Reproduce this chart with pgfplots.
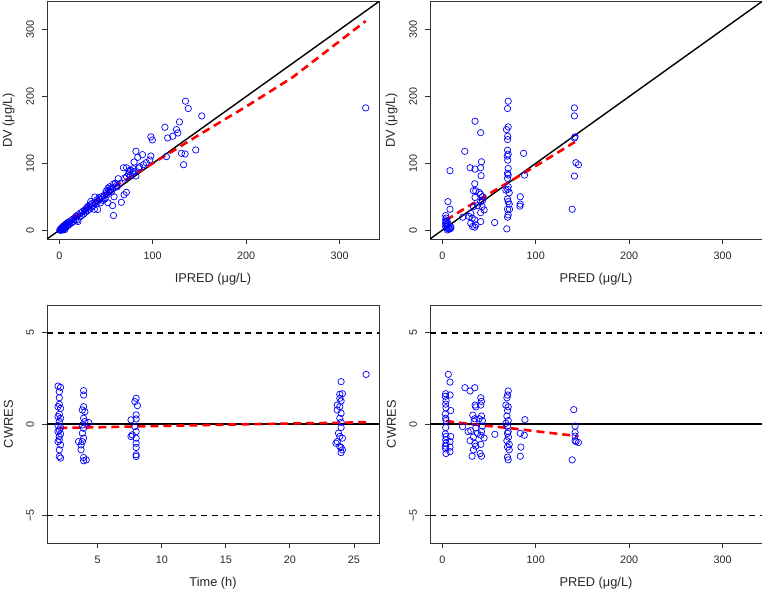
\documentclass[border=0pt]{standalone}
\usepackage{fontspec}
\setmainfont{Liberation Sans}
\usepackage{pgfplots}
\usepackage{pgfplotstable}
\pgfplotsset{compat=1.18}

% Observed vs individual predictions
\pgfplotstableread{
x y
328 183
135 193
138 182
152.5 171
113 154
128.6 162
125.4 150.5
126.8 145.5
121.4 140.6
116 138
98 139.6
99.6 135
98 111
96.8 105
93 101
89 113
82 118
84 109
114.6 110
130.7 115
134.6 114
146 120
133 98
80 102
68.6 93.4
72 93.4
76 82
78.6 86.4
82 81
85 93
79 92
75 88
63 77
58 69
61 66.6
52 62.6
53.6 58
54 65
50 55
69.3 53
71.8 56.6
66.4 41.7
58.6 50
57 36.8
58 21.9
52 41
47 44.7
38 49.7
42.5 48.7
41 31
37.5 31.3
33.6 43
29 32.8
0.5 0
1 1
1.5 0.5
2 2
2 0
2.5 3
3 1
3 4
3.5 2
4 5
4 0.5
4.5 3
5 6
5 2
5.5 4
6 7
6 1
7 9
7 5
8 10
8 6
9 11
9 7
10 12
10 8
11 9
12 14
13 11
14 16
15 13
16 18
17 15
18 21
19 15
20 13
20 23
22 20
23 26
24 22
25 28
26 24
27 30
28 27
30 34
30 29
31 36
32 31
33 38
34 34
35 40
36 37
38 41
39 39
40 45
41 43
43 46
44 41
45 50
46 48
48 52
49 47
50 58
51 53
53 60
55 61
56 57
57 63
60 70
62 65
65 70
70 78
72 80
74 84
76 90
80 88
86 95
90 98
}\ipredtab

% Observed vs population predictions
\pgfplotstableread{
x y
70.5 193
69.8 182
70.5 154.5
68.7 150.5
70 140.6
69.8 135.6
69.8 119.7
70.5 113.8
69.5 110.8
70 104.8
70.5 92.4
69.8 85
70.5 82.5
69.8 77.5
70.5 65
70 61
68 60
71.6 56
69.8 46.7
70.5 42.7
71.6 39
69.8 31.3
71.9 31.3
70.5 22.9
69.8 19.4
69 2
35 163
41 146
24 118
29.7 93.4
35 91.4
41.9 102.3
41 93.4
41.5 81.5
34.7 69.5
33.3 59
35.8 59
39.4 56.6
41 53.7
43 50
35 49
41 42.7
43 44.2
37.6 36.8
42.6 35.3
44.7 30.3
41 26.3
41 12.9
33.3 35.3
30.4 25.3
28.6 20.4
32 17.9
34.7 15.4
30.4 10.4
32.5 5.5
34.7 4.5
35.8 8
21.8 19.4
56 11.4
8.2 89
6 42.7
8.2 31.3
3.6 21.9
3.6 15.4
3.6 10.4
3.6 5.5
7 1.5
9 3
5.4 0.5
4 8
4 12
5 3
5 6
6 10
8 2
9 5
5 14
4 18
83.4 50
83.4 39
83 36
87 115
88 82.5
141.4 183
141.4 171
142 139.6
141.4 138
143 101
145.7 98
141.4 81
139 31.3
}\predtab

% Conditional weighted residuals vs time
\pgfplotstableread{
x y
1.9 2.09
2.1 2.02
2.0 1.78
2.0 1.45
2.0 1.09
1.9 0.96
2.1 0.87
2.0 0.55
1.9 0.42
2.1 0.33
2.0 0.15
1.9 -0.07
2.1 -0.18
2.0 -0.31
1.9 -0.40
2.1 -0.53
2.0 -0.67
2.0 -0.85
1.9 -0.95
2.1 -1.13
2.0 -1.40
2.0 -1.76
2.1 -1.85
3.9 1.84
3.9 1.60
3.9 0.96
3.8 0.78
4.0 0.69
3.9 0.33
4.0 0.15
4.3 0.09
3.8 -0.04
3.9 -0.22
3.8 -0.49
3.9 -0.76
3.8 -0.95
3.5 -0.95
3.7 -1.13
3.7 -1.40
3.9 -1.82
4.1 -1.95
3.9 -2.00
8.0 1.42
7.9 1.24
8.1 1.02
8.0 0.51
7.6 0.24
8.0 0.29
7.9 -0.13
8.0 -0.40
7.7 -0.58
7.6 -0.67
8.0 -0.76
8.0 -1.04
8.0 -1.27
8.0 -1.67
8.0 -1.76
24.0 2.33
23.9 1.64
24.1 1.67
23.9 1.42
24.0 1.27
23.7 1.05
23.9 0.96
23.7 0.78
24.0 0.60
23.9 0.33
24.0 0.11
24.0 -0.18
23.8 -0.49
23.9 -0.67
24.1 -0.76
23.7 -0.95
23.6 -1.04
23.9 -1.22
24.0 -1.27
24.1 -1.40
24.0 -1.55
25.95 2.73
}\timetab

% Conditional weighted residuals vs population predictions
\pgfplotstableread{
x y
3.6 1.67
3.2 1.53
4.0 1.30
3.6 1.10
3.9 0.90
3.2 0.56
3.6 0.33
4.0 0.20
3.6 -0.18
3.2 -0.53
4.0 -0.67
3.6 -0.85
3.9 -1.04
3.2 -1.20
3.6 -1.35
3.9 -1.60
6.4 2.73
8.2 2.31
8.2 1.60
9.0 0.75
9.0 -0.67
8.2 -0.95
8.2 -1.25
8.2 -1.50
24.2 2.00
21.7 -0.13
29.7 1.82
34.7 2.00
35.8 0.95
35.1 1.05
32.6 0.50
34.7 0.30
34.0 0.15
27.6 -0.40
30.4 -0.35
29.7 -0.90
33.3 -0.70
34.7 -1.05
33.3 -1.40
31.9 -1.75
35.8 -0.20
37.6 -0.50
35.8 -1.20
41.2 1.45
41.9 1.25
41.2 1.05
41.9 0.45
39.4 0.30
42.9 0.20
42.9 -0.10
41.9 -0.40
41.2 -0.60
44.7 -0.75
41.2 -1.10
40.5 -1.60
41.9 -1.75
56.2 -0.55
70.5 1.82
69.8 1.60
69.1 1.45
68.0 1.05
70.5 0.95
69.8 0.75
69.1 0.45
70.5 0.20
68.0 0.05
69.8 -0.10
70.5 -0.40
70.8 -0.70
69.1 -0.90
71.6 -1.10
71.6 -1.40
69.8 -1.80
70.5 -1.95
69.8 -0.50
69.8 -1.25
83.4 -0.50
84.1 -1.25
83.4 -1.75
88.4 0.25
87.7 -0.60
140.7 0.80
142.1 -0.10
142.1 -0.45
142.1 -0.65
142.1 -0.90
143.2 -0.95
145.7 -1.00
139.0 -1.95
}\cwrespredtab

\pgfplotsset{
  diag/.style={
    scale only axis, width=332pt, height=237.5pt,
    axis line style={line width=0.8pt, black!80},
    tick align=outside, xtick pos=left, ytick pos=left,
    major tick length=5pt,
    tick style={line width=0.8pt, black!80},
    /pgf/number format/assume math mode=true,
    ticklabel style={font=\fontsize{10.8}{12}\selectfont, text=black!85},
    xticklabel style={anchor=north},
    yticklabel style={rotate=90, anchor=south},
    xticklabel shift=4.5pt,
    yticklabel shift=4.5pt,
    label style={font=\fontsize{12.8}{14}\selectfont, text=black!85},
    xlabel style={at={(axis description cs:0.5,-0.168)}, anchor=center},
    ylabel style={at={(axis description cs:-0.116,0.5)}, anchor=center},
    clip=true,
  },
  conc/.style={
    xmin=-13.2, xmax=342.2, ymin=-13.2, ymax=342.2,
    xtick={0,100,200,300}, xticklabels={0,100,200,300},
    ytick={0,100,200,300}, yticklabels={0,100,200,300},
  },
  resid/.style={
    ymin=-6.5, ymax=6.5,
    ytick={-5,0,5}, yticklabels={−5,0,5},
  },
  pts/.style={only marks, mark=o, mark size=3.2pt, blue, mark options={line width=0.7pt}},
  trend/.style={red, line width=2.6pt, dash pattern=on 8pt off 5pt},
}

\begin{document}
\begin{tikzpicture}
\useasboundingbox (0pt,0pt) rectangle (762pt,591pt);

% DV vs IPRED
\begin{axis}[diag, conc, at={(47pt,352pt)}, anchor=south west,
  xlabel={IPRED (μg/L)}, ylabel={DV (μg/L)}]
\addplot[pts] table {\ipredtab};
\addplot[black, line width=1.4pt] coordinates {(-13.2,-13.2) (342.2,342.2)};
\addplot[trend] coordinates {(2,8) (20,24) (60,66) (100,100) (150,143) (200,185) (250,229) (328,313)};
\end{axis}

% DV vs PRED
\begin{axis}[diag, conc, at={(430pt,352pt)}, anchor=south west,
  xlabel={PRED (μg/L)}, ylabel={DV (μg/L)}]
\addplot[pts] table {\predtab};
\addplot[black, line width=1.4pt] coordinates {(-13.2,-13.2) (342.2,342.2)};
\addplot[trend] coordinates {(4,15) (20,29) (40,46) (70,71) (100,96) (142,132)};
\end{axis}

% CWRES vs time
\begin{axis}[diag, resid, at={(47pt,48pt)}, anchor=south west,
  xmin=1.04, xmax=26.96,
  xtick={5,10,15,20,25}, xticklabels={5,10,15,20,25},
  xlabel={Time (h)}, ylabel={CWRES}]
\addplot[pts] table {\timetab};
\addplot[black, line width=1.6pt] coordinates {(1.04,0) (26.96,0)};
\addplot[black, line width=1.5pt, dash pattern=on 6pt off 5pt] coordinates {(1.04,5) (26.96,5)};
\addplot[black, line width=1.5pt, dash pattern=on 6pt off 5pt] coordinates {(1.04,-5) (26.96,-5)};
\addplot[trend] coordinates {(2,-0.2) (4,-0.18) (8,-0.12) (15,-0.02) (20,0.04) (24,0.08) (26,0.12)};
\end{axis}

% CWRES vs PRED
\begin{axis}[diag, resid, at={(430pt,48pt)}, anchor=south west,
  xmin=-13.2, xmax=342.2,
  xtick={0,100,200,300}, xticklabels={0,100,200,300},
  xlabel={PRED (μg/L)}, ylabel={CWRES}]
\addplot[pts] table {\cwrespredtab};
\addplot[black, line width=1.6pt] coordinates {(-13.2,0) (342.2,0)};
\addplot[black, line width=1.5pt, dash pattern=on 6pt off 5pt] coordinates {(-13.2,5) (342.2,5)};
\addplot[black, line width=1.5pt, dash pattern=on 6pt off 5pt] coordinates {(-13.2,-5) (342.2,-5)};
\addplot[trend] coordinates {(4,0.18) (20,0.07) (40,-0.05) (70,-0.2) (100,-0.38) (145,-0.65)};
\end{axis}
\end{tikzpicture}
\end{document}
